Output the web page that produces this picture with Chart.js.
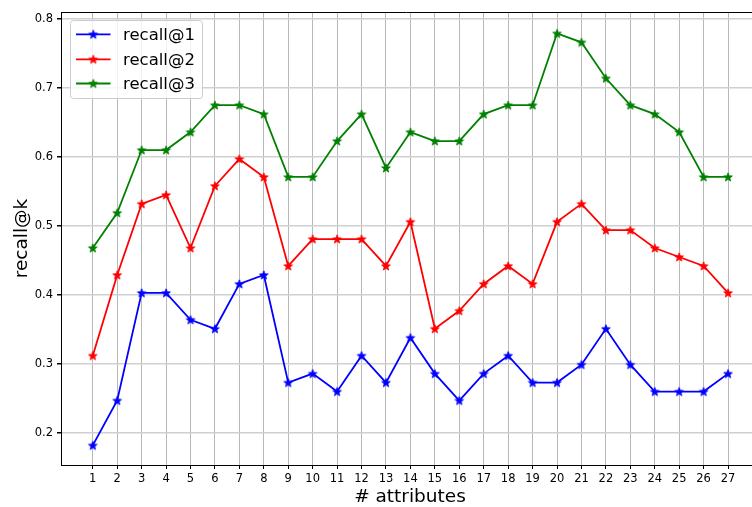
<!DOCTYPE html>
<html>
<head>
<meta charset="utf-8">
<script src="https://cdn.jsdelivr.net/npm/chart.js@4/dist/chart.umd.min.js"></script>
<style>
  html, body { margin: 0; padding: 0; background: #fff; }
  #chart { display: block; }
</style>
</head>
<body>
<canvas id="chart" width="752" height="507"></canvas>
<script>
// Number of attributes on the x axis
const categories = [1,2,3,4,5,6,7,8,9,10,11,12,13,14,15,16,17,18,19,20,21,22,23,24,25,26,27];

// Recall scores for each k
const recall1 = [0.182,0.247,0.403,0.403,0.364,0.351,0.416,0.429,0.273,0.286,0.260,0.312,0.273,0.338,0.286,0.247,0.286,0.312,0.273,0.273,0.299,0.351,0.299,0.260,0.260,0.260,0.286];
const recall2 = [0.312,0.429,0.532,0.545,0.468,0.558,0.597,0.571,0.442,0.481,0.481,0.481,0.442,0.506,0.351,0.377,0.416,0.442,0.416,0.506,0.532,0.494,0.494,0.468,0.455,0.442,0.403];
const recall3 = [0.468,0.519,0.610,0.610,0.636,0.675,0.675,0.662,0.571,0.571,0.623,0.662,0.584,0.636,0.623,0.623,0.662,0.675,0.675,0.779,0.766,0.714,0.675,0.662,0.636,0.571,0.571];

const seriesNames = ['recall@1', 'recall@2', 'recall@3'];
const yTicks = [0.2, 0.3, 0.4, 0.5, 0.6, 0.7, 0.8];
const xTitle = '# attributes';
const yTitle = 'recall@k';

const colors = ['#0000ff', '#ff0000', '#008000'];
const FONT = '"DejaVu Sans", sans-serif';

// Filled five-pointed star used as the point marker
function makeStar(color) {
  const size = 12;
  const c = document.createElement('canvas');
  c.width = size; c.height = size;
  const g = c.getContext('2d');
  const cx = size / 2, cy = size / 2, R = 4.6, r = R * 0.42;
  g.beginPath();
  for (let i = 0; i < 10; i++) {
    const rad = i % 2 === 0 ? R : r;
    const a = -Math.PI / 2 + i * Math.PI / 5;
    const x = cx + rad * Math.cos(a), y = cy + rad * Math.sin(a) + 0.4;
    if (i === 0) g.moveTo(x, y); else g.lineTo(x, y);
  }
  g.closePath();
  g.fillStyle = color;
  g.fill();
  g.lineWidth = 0.8;
  g.strokeStyle = color;
  g.stroke();
  return c;
}
const stars = colors.map(makeStar);

const seriesValues = [recall1, recall2, recall3];
const datasets = seriesValues.map((vals, s) => ({
  label: seriesNames[s],
  data: categories.map((c, i) => ({ x: c, y: vals[i] })),
  borderColor: colors[s],
  backgroundColor: colors[s],
  borderWidth: 1.8,
  tension: 0,
  pointStyle: stars[s],
  pointRadius: 5,
  pointHoverRadius: 5,
  clip: false
}));

// Axis titles, top spine and the boxed legend
const decorations = {
  id: 'decorations',
  afterDraw(chart) {
    const ctx = chart.ctx;
    const area = chart.chartArea;
    ctx.save();
    // top spine
    ctx.strokeStyle = '#000';
    ctx.lineWidth = 1;
    ctx.beginPath();
    ctx.moveTo(area.left, area.top + 0.5);
    ctx.lineTo(area.right, area.top + 0.5);
    ctx.stroke();

    // axis titles
    ctx.fillStyle = '#000';
    ctx.font = '18.5px ' + FONT;
    ctx.textAlign = 'center';
    ctx.textBaseline = 'middle';
    ctx.fillText(xTitle, 410, 497);
    ctx.translate(22, 238.5);
    ctx.rotate(-Math.PI / 2);
    ctx.fillText(yTitle, 0, 0);
    ctx.setTransform(1, 0, 0, 1, 0, 0);

    // legend
    const bx = 70.5, by = 20.5, bw = 132, bh = 78, rr = 3;
    ctx.beginPath();
    ctx.moveTo(bx + rr, by);
    ctx.lineTo(bx + bw - rr, by);
    ctx.quadraticCurveTo(bx + bw, by, bx + bw, by + rr);
    ctx.lineTo(bx + bw, by + bh - rr);
    ctx.quadraticCurveTo(bx + bw, by + bh, bx + bw - rr, by + bh);
    ctx.lineTo(bx + rr, by + bh);
    ctx.quadraticCurveTo(bx, by + bh, bx, by + bh - rr);
    ctx.lineTo(bx, by + rr);
    ctx.quadraticCurveTo(bx, by, bx + rr, by);
    ctx.closePath();
    ctx.fillStyle = 'rgba(255,255,255,0.8)';
    ctx.fill();
    ctx.strokeStyle = '#cccccc';
    ctx.lineWidth = 1;
    ctx.stroke();

    const rows = [34.3, 59.3, 83.5];
    ctx.font = '16.5px ' + FONT;
    ctx.textAlign = 'left';
    ctx.textBaseline = 'middle';
    seriesNames.forEach((name, s) => {
      const y = rows[s];
      ctx.strokeStyle = colors[s];
      ctx.lineWidth = 1.8;
      ctx.beginPath();
      ctx.moveTo(76, y);
      ctx.lineTo(110.5, y);
      ctx.stroke();
      ctx.drawImage(stars[s], 93.3 - 6, y - 6);
      ctx.fillStyle = '#000';
      ctx.fillText(name, 123, y + 1);
    });
    ctx.restore();
  }
};

new Chart(document.getElementById('chart'), {
  type: 'line',
  data: { datasets },
  options: {
    responsive: false,
    devicePixelRatio: 1,
    animation: false,
    layout: { autoPadding: false, padding: { top: 12, right: 0, bottom: 0, left: 0 } },
    plugins: { legend: { display: false }, tooltip: { enabled: false } },
    scales: {
      x: {
        type: 'linear',
        min: -0.3,
        max: 27.98,
        afterBuildTicks: (scale) => { scale.ticks = categories.map(v => ({ value: v })); },
        afterFit: (scale) => { scale.height = 42; scale.paddingLeft = 0; scale.paddingRight = 0; },
        ticks: {
          autoSkip: false,
          maxRotation: 0,
          padding: 3,
          color: '#000',
          font: { family: FONT, size: 11.5 },
          callback: (v) => String(v)
        },
        grid: { color: '#b8b8b8', lineWidth: 1, tickColor: '#000', tickLength: 4, drawTicks: true },
        border: { display: true, color: '#000', width: 1 }
      },
      y: {
        type: 'linear',
        min: 0.1536,
        max: 0.810,
        afterBuildTicks: (scale) => { scale.ticks = yTicks.map(v => ({ value: v })); },
        afterFit: (scale) => { scale.width = 61; scale.paddingTop = 0; scale.paddingBottom = 0; },
        ticks: {
          padding: 4,
          color: '#000',
          font: { family: FONT, size: 11.5 },
          callback: (v) => v.toFixed(1)
        },
        grid: { color: '#d0d0d0', lineWidth: 1.5, tickColor: '#000', tickLength: 4, drawTicks: true },
        border: { display: true, color: '#000', width: 1 }
      }
    }
  },
  plugins: [decorations]
});
</script>
</body>
</html>
